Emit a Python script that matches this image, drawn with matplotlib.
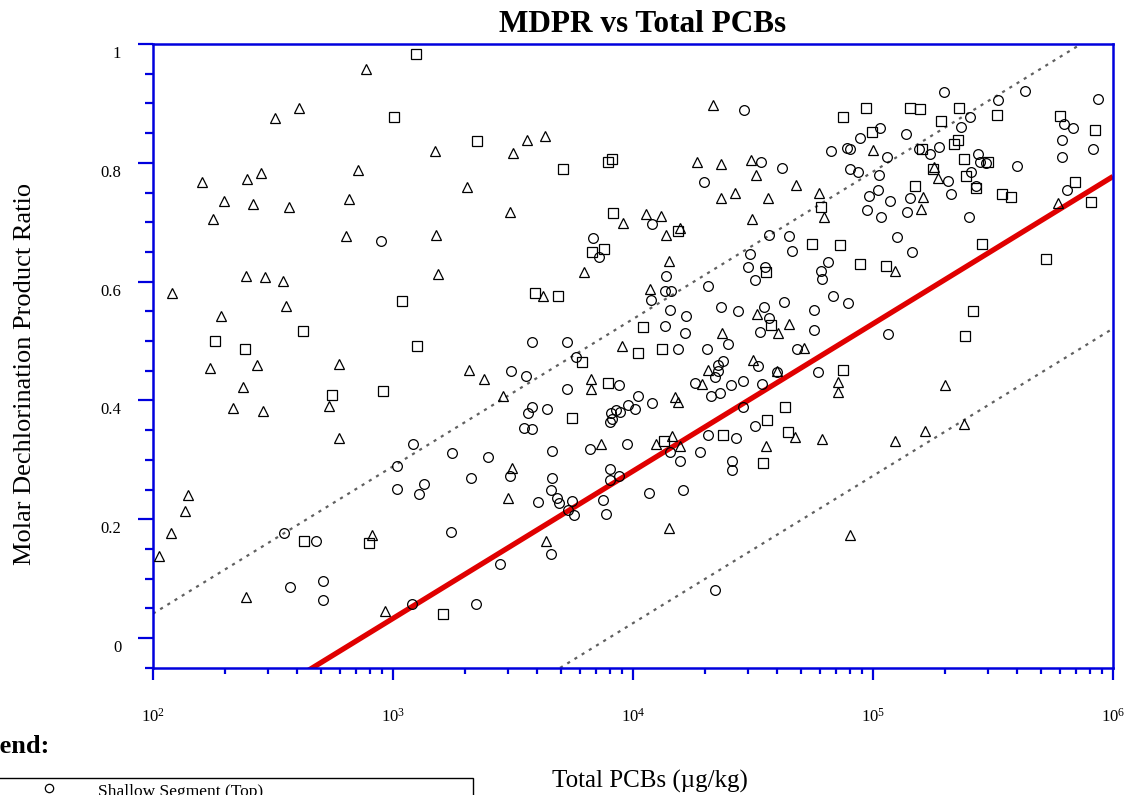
import numpy as np
import matplotlib
matplotlib.use("Agg")
import matplotlib.pyplot as plt
from matplotlib.ticker import FixedLocator, FixedFormatter, LogLocator, NullFormatter, MultipleLocator
from matplotlib.transforms import ScaledTranslation
from matplotlib.patches import Rectangle
from matplotlib.lines import Line2D

plt.rcParams['font.family'] = ['Liberation Serif', 'DejaVu Serif']
plt.rcParams['mathtext.fontset'] = 'custom'
plt.rcParams['mathtext.rm'] = 'Liberation Serif'

# log10(total PCBs, ug/kg) and MDPR
shallow_logpcb = [2.951, 3.085, 3.018, 3.245, 3.015, 3.129, 3.107, 3.325, 2.547, 2.679, 3.240, 2.571, 2.710, 2.707, 3.078, 3.346,
                  4.464, 4.533, 4.621, 4.297, 4.080, 3.832, 3.858, 4.565, 4.650, 4.661, 4.488, 4.478, 4.551, 4.507, 4.314, 4.139,
                  4.135, 4.157, 4.076, 4.155, 4.222, 4.368, 4.436, 4.545, 4.630, 4.565, 4.529, 4.135, 4.218, 4.395, 4.307, 4.188,
                  3.580, 3.725, 4.682, 5.296, 5.635, 5.522, 5.936, 5.403, 5.368, 5.030, 5.138, 4.947, 4.892, 4.905, 4.824, 5.058,
                  5.193, 5.276, 5.239, 5.436, 5.447, 5.472, 5.601, 5.796, 5.832, 5.786, 5.788, 5.915, 4.905, 4.939, 5.025, 5.021,
                  4.985, 5.071, 4.974, 5.033, 5.155, 5.142, 5.314, 5.325, 5.410, 5.428, 5.400, 5.099, 5.164, 4.814, 4.783, 4.789,
                  4.832, 4.897, 4.753, 4.755, 5.064, 5.810, 3.761, 3.493, 3.555, 3.726, 3.579, 3.564, 3.643, 3.545, 3.579, 3.396,
                  3.663, 3.820, 3.940, 4.022, 3.978, 4.008, 4.080, 3.929, 3.946, 3.908, 3.914, 3.904, 3.975, 3.904, 3.904, 3.943,
                  3.664, 3.486, 3.660, 3.683, 3.692, 3.747, 3.730, 3.755, 3.604, 3.876, 3.886, 4.068, 4.208, 4.153, 4.196, 4.279,
                  3.657, 3.445, 4.340, 4.375, 4.353, 4.354, 4.343, 4.258, 4.325, 4.364, 4.408, 4.460, 4.521, 4.539, 4.599, 4.457,
                  4.507, 4.314, 4.428, 4.414, 4.414, 4.772]
shallow_mdpr = [0.669, 0.327, 0.290, 0.311, 0.251, 0.259, 0.242, 0.270, 0.176, 0.163, 0.179, 0.086, 0.096, 0.064, 0.057, 0.057,
                0.889, 0.801, 0.792, 0.768, 0.697, 0.673, 0.641, 0.678, 0.676, 0.651, 0.646, 0.624, 0.624, 0.603, 0.593, 0.610,
                0.585, 0.584, 0.569, 0.553, 0.542, 0.557, 0.551, 0.558, 0.566, 0.538, 0.515, 0.526, 0.514, 0.495, 0.487, 0.487,
                0.499, 0.498, 0.487, 0.920, 0.921, 0.906, 0.907, 0.877, 0.861, 0.858, 0.848, 0.841, 0.825, 0.824, 0.820, 0.810,
                0.823, 0.827, 0.814, 0.814, 0.802, 0.800, 0.795, 0.866, 0.859, 0.838, 0.810, 0.823, 0.790, 0.784, 0.779, 0.755,
                0.744, 0.736, 0.721, 0.709, 0.741, 0.718, 0.769, 0.747, 0.784, 0.761, 0.708, 0.675, 0.649, 0.633, 0.618, 0.605,
                0.576, 0.564, 0.553, 0.519, 0.512, 0.755, 0.473, 0.450, 0.441, 0.420, 0.389, 0.379, 0.385, 0.353, 0.352, 0.304,
                0.315, 0.318, 0.426, 0.408, 0.393, 0.386, 0.396, 0.383, 0.380, 0.378, 0.369, 0.364, 0.327, 0.285, 0.266, 0.273,
                0.269, 0.273, 0.249, 0.236, 0.228, 0.231, 0.215, 0.207, 0.229, 0.233, 0.209, 0.244, 0.249, 0.313, 0.298, 0.313,
                0.141, 0.125, 0.081, 0.467, 0.459, 0.450, 0.439, 0.430, 0.408, 0.413, 0.426, 0.433, 0.458, 0.428, 0.447, 0.389,
                0.357, 0.342, 0.336, 0.298, 0.283, 0.447]

middle_logpcb = [3.095, 3.005, 3.038, 3.349, 2.260, 2.385, 2.625, 3.099, 2.745, 2.957, 2.629, 2.901, 3.207,
                 3.707, 3.897, 3.914, 3.918, 4.188, 3.879, 3.828, 3.592, 3.686, 4.042, 4.122, 4.020, 4.553, 4.574,
                 4.874, 4.970, 5.153, 5.197, 5.357, 5.515, 5.283, 4.995, 5.205, 5.339, 5.354, 5.379, 5.478, 5.251,
                 5.386, 5.174, 5.428, 5.536, 5.574, 5.779, 5.924, 5.840, 5.908, 4.782, 4.745, 4.863, 4.947, 5.053,
                 5.454, 5.720, 5.417, 5.382, 3.788, 3.895, 3.746, 4.130, 4.375, 4.558, 4.632, 4.647, 4.540, 4.874]
middle_mdpr = [0.983, 0.877, 0.568, 0.836, 0.500, 0.486, 0.517, 0.492, 0.409, 0.416, 0.163, 0.160, 0.040,
               0.789, 0.802, 0.806, 0.716, 0.686, 0.655, 0.649, 0.580, 0.575, 0.523, 0.486, 0.479, 0.616, 0.527,
               0.877, 0.892, 0.892, 0.891, 0.892, 0.881, 0.871, 0.852, 0.824, 0.832, 0.838, 0.807, 0.801, 0.789,
               0.777, 0.761, 0.758, 0.747, 0.742, 0.878, 0.855, 0.767, 0.734, 0.726, 0.664, 0.662, 0.630, 0.627,
               0.664, 0.638, 0.551, 0.509, 0.464, 0.429, 0.370, 0.331, 0.342, 0.367, 0.389, 0.347, 0.294, 0.451]

deep_logpcb = [2.886, 2.610, 2.508, 3.175, 2.855, 3.307, 2.203, 2.392, 2.450, 2.295, 2.417, 2.567, 2.817, 2.250,
               2.804, 3.179, 2.386, 2.465, 2.542, 3.188, 2.078, 2.553, 2.283, 2.238, 2.432, 2.374, 2.335, 2.460,
               2.776, 2.735, 2.776, 3.318, 2.147, 2.133, 2.074, 2.026, 2.388, 2.967, 2.911, 3.557, 3.633, 3.501,
               3.486, 3.960, 4.053, 4.117, 4.136, 4.196, 4.151, 3.796, 4.071, 3.626, 3.953, 4.335, 4.268, 4.365,
               4.490, 4.513, 4.365, 4.424, 4.561, 4.679, 4.495, 4.515, 4.650, 4.605, 4.370, 4.776, 4.796, 4.999,
               5.255, 5.272, 5.207, 5.200, 5.092, 5.770, 4.713, 3.379, 3.460, 3.825, 3.825, 4.175, 4.189, 3.867,
               4.095, 4.161, 4.196, 3.497, 3.478, 3.638, 4.149, 4.314, 4.286, 4.499, 4.601, 4.553, 4.674, 4.855,
               4.855, 5.300, 4.786, 5.092, 5.215, 5.380, 4.904]
deep_mdpr = [0.958, 0.893, 0.875, 0.820, 0.788, 0.760, 0.768, 0.772, 0.782, 0.735, 0.731, 0.725, 0.739, 0.705,
             0.676, 0.678, 0.609, 0.607, 0.601, 0.613, 0.580, 0.559, 0.542, 0.455, 0.460, 0.423, 0.387, 0.382,
             0.462, 0.391, 0.336, 0.452, 0.241, 0.214, 0.177, 0.138, 0.069, 0.045, 0.173, 0.838, 0.845, 0.816,
             0.717, 0.699, 0.713, 0.710, 0.678, 0.690, 0.634, 0.616, 0.587, 0.575, 0.492, 0.897, 0.801, 0.798,
             0.804, 0.779, 0.740, 0.750, 0.740, 0.763, 0.705, 0.545, 0.529, 0.513, 0.513, 0.750, 0.708, 0.822,
             0.793, 0.775, 0.743, 0.723, 0.618, 0.733, 0.489, 0.436, 0.407, 0.436, 0.419, 0.406, 0.398, 0.326,
             0.326, 0.340, 0.323, 0.287, 0.236, 0.163, 0.186, 0.452, 0.427, 0.468, 0.450, 0.323, 0.338, 0.431,
             0.414, 0.426, 0.335, 0.332, 0.349, 0.360, 0.173]

# regression line: MDPR = slope * log10(PCB) + intercept, with +/- band
fit_slope = 0.248
fit_intercept = -0.711
fit_band = 0.256

blue = '#0000dd'
fig = plt.figure(figsize=(11.29, 7.95), dpi=100)
ax = fig.add_axes([153/1129, 1 - 668/795, (1113 - 153)/1129, (668 - 44)/795])

xs = np.logspace(2, 6, 200)
fit = fit_slope * np.log10(xs) + fit_intercept
ax.plot(xs, fit, color='#e00000', lw=3.8, solid_capstyle='butt', zorder=2)
ax.plot(xs, fit + fit_band, color='#606060', lw=1.6, ls=(0, (1.4, 2.4)), zorder=2)
ax.plot(xs, fit - fit_band, color='#606060', lw=1.6, ls=(0, (1.4, 2.4)), zorder=2)

mk = dict(ls='none', mfc='none', mec='black', mew=0.9, zorder=3)
ax.plot(10 ** np.array(shallow_logpcb), shallow_mdpr, marker='o', ms=7, **mk)
ax.plot(10 ** np.array(middle_logpcb), middle_mdpr, marker='s', ms=7, **mk)
ax.plot(10 ** np.array(deep_logpcb), deep_mdpr, marker='^', ms=7.5, **mk)

ax.set_xscale('log')
ax.set_xlim(1e2, 1e6)
ax.set_ylim(-0.0505, 1.0)

for s in ax.spines.values():
    s.set_color(blue)
    s.set_linewidth(1.8)

ax.xaxis.set_major_locator(FixedLocator([1e2, 1e3, 1e4, 1e5, 1e6]))
ax.xaxis.set_major_formatter(FixedFormatter([r'$\mathregular{10^{%d}}$' % k for k in range(2, 7)]))
ax.xaxis.set_minor_locator(LogLocator(base=10, subs=np.arange(2, 10)))
ax.xaxis.set_minor_formatter(NullFormatter())
ax.yaxis.set_major_locator(FixedLocator([0, 0.2, 0.4, 0.6, 0.8, 1.0]))
ax.yaxis.set_major_formatter(FixedFormatter(['0', '0.2', '0.4', '0.6', '0.8', '1']))
ax.yaxis.set_minor_locator(MultipleLocator(0.05))

ax.tick_params(axis='x', which='major', direction='out', length=8.6, width=1.6, color=blue, labelsize=12, pad=20)
ax.tick_params(axis='x', which='minor', direction='out', length=4.3, width=1.6, color=blue)
ax.tick_params(axis='y', which='major', direction='out', length=10.8, width=1.6, color=blue, labelsize=12, pad=12)
ax.tick_params(axis='y', which='minor', direction='out', length=5.8, width=1.6, color=blue)

off = ScaledTranslation(0, -8/100, fig.dpi_scale_trans)
for lab in ax.get_yticklabels():
    lab.set_transform(lab.get_transform() + off)

fig.text(643/1129, 1 - 25/795, 'MDPR vs Total PCBs', ha='center', va='center', fontsize=22.5, fontweight='bold')
fig.text(25/1129, 1 - 374/795, 'Molar Dechlorination Product Ratio', rotation=90, ha='center', va='center', fontsize=19)
fig.text(650/1129, 1 - 781/795, 'Total PCBs (\u00b5g/kg)', ha='center', va='center', fontsize=18)

# legend block (cut by the figure edge, as in the source)
fig.text(50/1129, 1 - 746/795, 'Legend:', ha='right', va='center', fontsize=19, fontweight='bold')
fig.add_artist(Rectangle((-20/1129, -0.05), (473 + 20)/1129, 0.05 + (1 - 778/795),
                         transform=fig.transFigure, fill=False, lw=1, ec='black'))
fig.add_artist(Line2D([49/1129], [1 - 788/795], marker='o', ms=6, mfc='none', mec='black', mew=0.9,
                      ls='none', transform=fig.transFigure))
fig.text(98/1129, 1 - 796/795, 'Shallow Segment (Top)', ha='left', va='baseline', fontsize=12.5)

fig.savefig('out.png', dpi=100)
